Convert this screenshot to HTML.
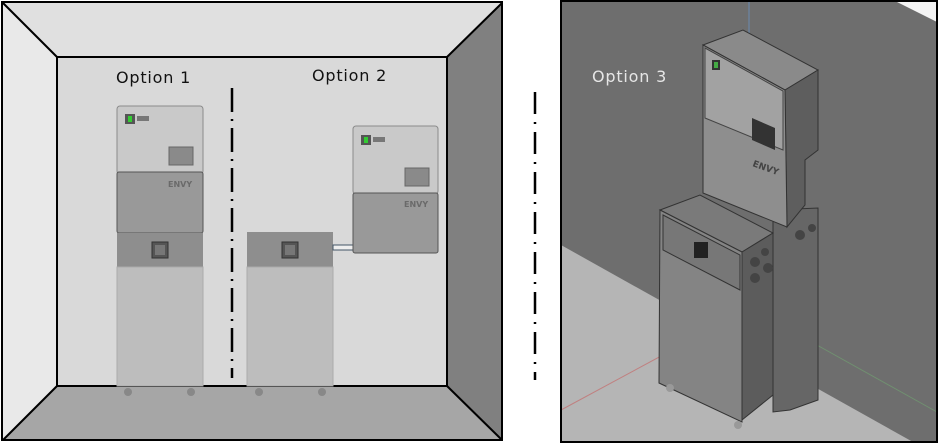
<!DOCTYPE html>
<html><head><meta charset="utf-8"><style>
html,body{margin:0;padding:0;background:#fff;width:938px;height:443px;overflow:hidden}
svg{display:block}
text{font-family:"DejaVu Sans","Liberation Sans",sans-serif}
</style></head><body>
<svg width="938" height="443" viewBox="0 0 938 443" xmlns="http://www.w3.org/2000/svg">
<!-- LEFT PANEL -->
<polygon points="3,3 502,3 447,57 57,57" fill="#e0e0e0"/>
<polygon points="3,3 57,57 57,386 3,440" fill="#e9e9e9"/>
<polygon points="502,3 502,440 447,386 447,57" fill="#808080"/>
<polygon points="3,440 57,386 447,386 502,440" fill="#a6a6a6"/>
<rect x="57" y="57" width="390" height="329" fill="#d9d9d9" stroke="#000" stroke-width="2"/>
<g stroke="#000" stroke-width="2">
<line x1="3" y1="3" x2="57" y2="57"/><line x1="502" y1="3" x2="447" y2="57"/>
<line x1="3" y1="440" x2="57" y2="386"/><line x1="502" y1="440" x2="447" y2="386"/>
</g>
<rect x="2" y="2" width="500" height="438" fill="none" stroke="#000" stroke-width="2"/>
<text x="116" y="83" font-size="16" letter-spacing="0.8" fill="#111">Option 1</text>
<text x="312" y="81" font-size="16" letter-spacing="0.8" fill="#111">Option 2</text>
<line x1="232" y1="88" x2="232" y2="378" stroke="#000" stroke-width="2.5" stroke-dasharray="24,7,2,7"/>
<!-- option 1 -->
<rect x="117" y="106" width="86" height="68" rx="3" fill="#c9c9c9" stroke="#8a8a8a"/>
<rect x="125" y="114" width="10" height="10" fill="#555"/><rect x="128" y="116" width="4" height="6" fill="#3c3"/>
<rect x="137" y="116" width="12" height="5" fill="#777"/>
<rect x="169" y="147" width="24" height="18" fill="#8a8a8a" stroke="#666"/>
<rect x="117" y="172" width="86" height="61" rx="2" fill="#999" stroke="#555"/>
<text x="168" y="187" font-size="8" font-weight="bold" fill="#6a6a6a">ENVY</text>
<rect x="117" y="233" width="86" height="34" fill="#8e8e8e"/>
<rect x="152" y="242" width="16" height="16" fill="#555" stroke="#333"/>
<rect x="155" y="245" width="10" height="10" fill="#777"/>
<rect x="117" y="267" width="86" height="119" fill="#bdbdbd" stroke="#aaa"/>
<circle cx="128" cy="392" r="4" fill="#888"/><circle cx="191" cy="392" r="4" fill="#888"/>
<!-- option 2 -->
<rect x="247" y="232" width="86" height="35" fill="#8e8e8e"/>
<rect x="282" y="242" width="16" height="16" fill="#555" stroke="#333"/>
<rect x="285" y="245" width="10" height="10" fill="#777"/>
<rect x="247" y="267" width="86" height="119" fill="#bdbdbd" stroke="#aaa"/>
<rect x="333" y="245" width="20" height="5" fill="#eee" stroke="#456"/>
<circle cx="259" cy="392" r="4" fill="#888"/><circle cx="322" cy="392" r="4" fill="#888"/>
<rect x="353" y="126" width="85" height="68" rx="3" fill="#c9c9c9" stroke="#8a8a8a"/>
<rect x="361" y="135" width="10" height="10" fill="#555"/><rect x="364" y="137" width="4" height="6" fill="#3c3"/>
<rect x="373" y="137" width="12" height="5" fill="#777"/>
<rect x="405" y="168" width="24" height="18" fill="#8a8a8a" stroke="#666"/>
<rect x="353" y="193" width="85" height="60" rx="2" fill="#999" stroke="#555"/>
<text x="404" y="207" font-size="8" font-weight="bold" fill="#6a6a6a">ENVY</text>
<!-- divider -->
<line x1="535" y1="92" x2="535" y2="380" stroke="#000" stroke-width="2.5" stroke-dasharray="22,8,2,8"/>
<!-- RIGHT PANEL -->
<rect x="561" y="1" width="376" height="441" fill="#6e6e6e"/>
<polygon points="561,245 913,442 561,442" fill="#b5b5b5"/>
<polygon points="895,1 937,1 937,22" fill="#f4f4f4"/>
<line x1="749" y1="1" x2="749" y2="65" stroke="#6a8ab0" stroke-width="1"/>
<line x1="561" y1="410" x2="700" y2="335" stroke="#c08080" stroke-width="1"/>
<line x1="790" y1="330" x2="937" y2="412" stroke="#709070" stroke-width="1"/>
<text x="592" y="82" font-size="16" letter-spacing="0.8" fill="#e6e6e6">Option 3</text>
<!-- back battery -->
<polygon points="773,210 818,208 818,400 790,410 773,412" fill="#666" stroke="#333"/>
<!-- upper box -->
<polygon points="703,45 743,30 818,70 785,90" fill="#8a8a8a" stroke="#333"/>
<polygon points="785,90 818,70 818,150 805,160 805,205 787,227" fill="#5e5e5e" stroke="#333"/>
<polygon points="703,45 785,90 787,227 703,193" fill="#8e8e8e" stroke="#333"/>
<polygon points="705,48 783,91 783,150 705,118" fill="#a2a2a2" stroke="#444"/>
<rect x="712" y="60" width="8" height="10" fill="#333"/><rect x="714" y="62" width="4" height="6" fill="#4a4"/>
<polygon points="752,118 775,128 775,150 752,140" fill="#333"/>
<text x="752" y="166" font-size="9" font-weight="bold" fill="#444" transform="rotate(20 752 166)">ENVY</text>
<!-- front battery -->
<polygon points="660,210 700,195 773,233 742,252" fill="#7a7a7a" stroke="#333"/>
<polygon points="742,252 773,233 773,395 742,420" fill="#5c5c5c" stroke="#333"/>
<polygon points="660,210 742,252 742,422 659,383" fill="#848484" stroke="#333"/>
<polygon points="663,215 740,255 740,290 663,250" fill="#777" stroke="#333"/>
<rect x="694" y="242" width="14" height="16" fill="#222"/>
<circle cx="755" cy="262" r="5" fill="#444"/><circle cx="755" cy="278" r="5" fill="#444"/>
<circle cx="765" cy="252" r="4" fill="#444"/><circle cx="768" cy="268" r="5" fill="#444"/>
<circle cx="800" cy="235" r="5" fill="#444"/><circle cx="812" cy="228" r="4" fill="#444"/>
<circle cx="738" cy="425" r="4" fill="#999"/><circle cx="670" cy="388" r="4" fill="#999"/>
<rect x="561" y="1" width="376" height="441" fill="none" stroke="#000" stroke-width="2"/>
</svg>
</body></html>
